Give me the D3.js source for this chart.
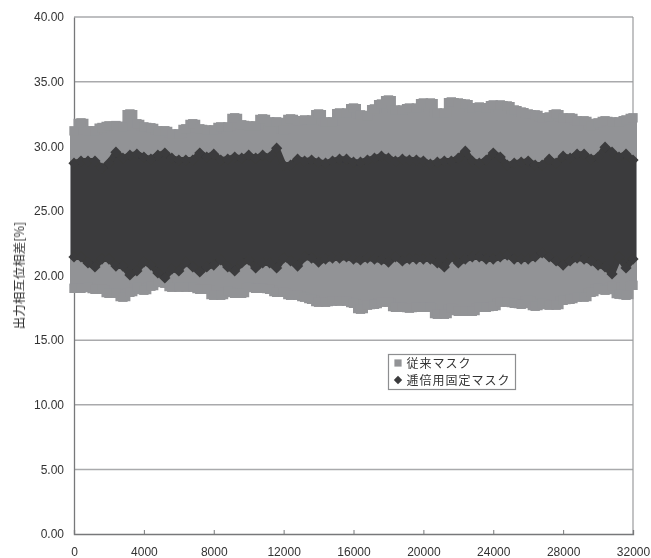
<!DOCTYPE html>
<html>
<head>
<meta charset="utf-8">
<script src="https://cdn.jsdelivr.net/npm/d3@7"></script>
<style>
  html, body { margin: 0; padding: 0; background: #fff; }
  text { font-family: "Liberation Sans", Arial, sans-serif; fill: #333; }
  .jp { font-family: "Noto Sans CJK JP", sans-serif; }
</style>
</head>
<body>
<div id="chart"></div>
<script>
const sampleStep = 400;
const yTicks = [0, 5, 10, 15, 20, 25, 30, 35, 40];
const xTicks = [0, 4000, 8000, 12000, 16000, 20000, 24000, 28000, 32000];
const legendLabels = ["従来マスク", "逓倍用固定マスク"];
const yTitle = "出力相互位相差[%]";

const lightTop = [31.19,31.81,31.2,31.2,31.45,31.58,31.6,31.5,32.5,31.74,31.5,31.43,31.2,31.2,30.96,30.96,31.35,31.74,31.35,31.27,31.27,31.5,31.5,32.2,31.66,31.58,31.58,32.12,31.89,31.89,31.27,32.12,31.97,32.04,32.04,32.5,31.89,31.89,32.58,32.58,32.96,32.43,32.35,32.89,33.27,33.58,32.81,32.81,32.96,32.96,33.35,33.35,32.58,32.58,33.43,33.35,33.27,32.96,33.04,32.96,33.2,33.2,33.12,32.81,32.65,32.5,32.43,32.2,32.27,32.5,32.2,32.2,31.97,31.97,31.58,31.81,31.97,31.89,31.89,32.04,32.2];
const lightBottom = [19.01,19.01,19.09,18.93,18.93,18.62,18.62,18.32,18.7,19.09,18.86,19.17,19.54,19.4,19.09,19.09,19.09,19.09,18.93,18.93,18.47,18.47,18.78,18.62,18.62,19.09,19.01,19.01,18.93,18.7,18.7,18.47,18.47,18.32,18.16,17.93,17.93,18.01,18.01,18.01,17.85,17.39,17.7,17.77,17.93,17.93,17.54,17.54,17.47,17.54,17.54,17.54,17.0,17.0,17.47,17.23,17.23,17.23,17.54,17.54,17.62,17.93,17.93,17.85,17.77,18.08,17.62,17.85,17.7,17.7,18.08,18.16,18.32,18.32,18.7,19.01,18.86,19.17,18.55,18.47,19.24];
const darkTop = [28.69,28.85,28.85,28.85,28.31,28.69,29.54,29.08,29.31,29.39,29.16,29.0,29.31,29.47,29.08,28.93,28.93,28.93,29.47,29.16,29.39,28.93,29.0,29.16,29.08,29.31,29.08,29.31,29.16,29.85,28.54,28.54,29.0,28.85,28.93,28.77,28.69,28.85,29.0,29.0,28.77,28.77,28.93,29.08,29.23,29.08,28.85,29.0,28.93,28.93,28.85,28.62,28.77,28.85,28.85,29.08,29.62,28.85,28.69,28.93,29.47,29.16,28.54,28.69,28.77,28.85,28.54,28.54,29.0,28.69,29.23,29.08,29.39,29.39,29.0,29.16,29.93,29.54,29.16,29.39,28.93];
const darkBottom = [21.43,21.43,20.97,20.66,21.27,21.27,20.73,20.73,20.04,20.35,21.04,20.81,20.2,19.81,20.5,20.35,21.04,20.66,20.27,20.66,20.81,21.2,20.66,20.35,20.97,21.2,20.58,20.97,20.97,20.58,21.35,21.12,20.73,21.43,21.35,21.04,21.27,21.35,21.35,21.43,21.27,21.2,21.35,21.27,21.2,21.04,21.43,21.12,21.27,21.27,21.27,21.27,20.97,20.66,21.43,20.97,21.27,21.43,21.43,21.27,21.27,21.43,21.58,21.27,21.27,21.27,21.43,21.74,21.43,21.12,20.81,21.12,21.35,21.27,21.12,20.81,20.66,20.12,21.43,20.58,21.27];

const width = 651, height = 558;
const margin = { top: 17, right: 18, bottom: 24, left: 74 };
const lightColor = "#929396", darkColor = "#3b3b3c";

const xScale = d3.scaleLinear().domain([0, 32000]).range([margin.left, width - margin.right]);
const yScale = d3.scaleLinear().domain([0, 40]).range([height - margin.bottom, margin.top]);

const svg = d3.select("#chart").append("svg")
  .attr("width", width)
  .attr("height", height);

// the reference is a soft scan
svg.append("defs").append("filter")
  .attr("id", "soft")
  .append("feGaussianBlur")
  .attr("stdDeviation", 0.55);

const root = svg.append("g").attr("filter", "url(#soft)");

root.append("g")
  .selectAll("line")
  .data(yTicks.slice(1))
  .join("line")
  .attr("x1", xScale(0))
  .attr("x2", xScale(32000))
  .attr("y1", d => yScale(d))
  .attr("y2", d => yScale(d))
  .attr("stroke", "#a9aaac")
  .attr("stroke-width", 1.5);

root.append("line")
  .attr("x1", xScale(32000)).attr("x2", xScale(32000))
  .attr("y1", yScale(40)).attr("y2", yScale(0))
  .attr("stroke", "#9a9b9d")
  .attr("stroke-width", 1.2);

const yAxis = d3.axisLeft(yScale)
  .tickValues(yTicks)
  .tickSize(0)
  .tickPadding(10)
  .tickFormat(d3.format(".2f"));

root.append("g")
  .attr("transform", `translate(${margin.left}, 0)`)
  .call(yAxis)
  .call(g => g.select(".domain").attr("stroke", "#77787a").attr("stroke-width", 1.3))
  .call(g => g.selectAll("text").attr("font-size", 12));

const xAxis = d3.axisBottom(xScale)
  .tickValues(xTicks)
  .tickSize(-4)
  .tickPadding(13)
  .tickFormat(d3.format("d"));

root.append("g")
  .attr("transform", `translate(0, ${height - margin.bottom})`)
  .call(xAxis)
  .call(g => g.select(".domain").attr("stroke", "#77787a").attr("stroke-width", 1.3))
  .call(g => g.selectAll(".tick line").attr("stroke", "#77787a"))
  .call(g => g.selectAll("text").attr("font-size", 12));

root.append("text")
  .attr("class", "jp")
  .attr("transform", `translate(24, ${yScale(20)}) rotate(-90)`)
  .attr("text-anchor", "middle")
  .attr("font-size", 12.5)
  .text(yTitle);

// band through the marker centres, its stroke stands in for the overlapping markers
function drawSeries(top, bottom, color, symbolType, symbolSize, bandStroke, curve, join) {
  const rows = top.map((d, i) => ({ x: i * sampleStep, top: d, bottom: bottom[i] }));

  root.append("path")
    .datum(rows)
    .attr("fill", color)
    .attr("stroke", color)
    .attr("stroke-width", bandStroke)
    .attr("stroke-linejoin", join)
    .attr("d", d3.area()
      .curve(curve)
      .x(d => xScale(d.x))
      .y0(d => yScale(d.bottom))
      .y1(d => yScale(d.top)));

  const symbol = d3.symbol().type(symbolType).size(symbolSize);
  const points = rows.flatMap(d => [{ x: d.x, y: d.top }, { x: d.x, y: d.bottom }]);

  root.append("g")
    .attr("fill", color)
    .selectAll("path")
    .data(points)
    .join("path")
    .attr("d", symbol)
    .attr("transform", d => `translate(${xScale(d.x)}, ${yScale(d.y)})`);
}

drawSeries(lightTop, lightBottom, lightColor, d3.symbolSquare, 88, 8, d3.curveStep, "miter");
drawSeries(darkTop, darkBottom, darkColor, d3.symbolDiamond2, 80, 6, d3.curveLinear, "round");

// legend
const legend = root.append("g").attr("transform", "translate(388.5, 354.5)");

legend.append("rect")
  .attr("width", 127)
  .attr("height", 35)
  .attr("fill", "#fff")
  .attr("stroke", "#8d8e90")
  .attr("stroke-width", 1.2);

legend.append("path")
  .attr("d", d3.symbol().type(d3.symbolSquare).size(52))
  .attr("transform", "translate(9.5, 8.5)")
  .attr("fill", lightColor);

legend.append("path")
  .attr("d", d3.symbol().type(d3.symbolDiamond2).size(45))
  .attr("transform", "translate(9.5, 25.5)")
  .attr("fill", darkColor);

legend.selectAll("text.jp")
  .data(legendLabels)
  .join("text")
  .attr("class", "jp")
  .attr("x", 18)
  .attr("y", (d, i) => 13 + i * 17.5)
  .attr("font-size", 12)
  .attr("letter-spacing", 1)
  .text(d => d);
</script>
</body>
</html>
